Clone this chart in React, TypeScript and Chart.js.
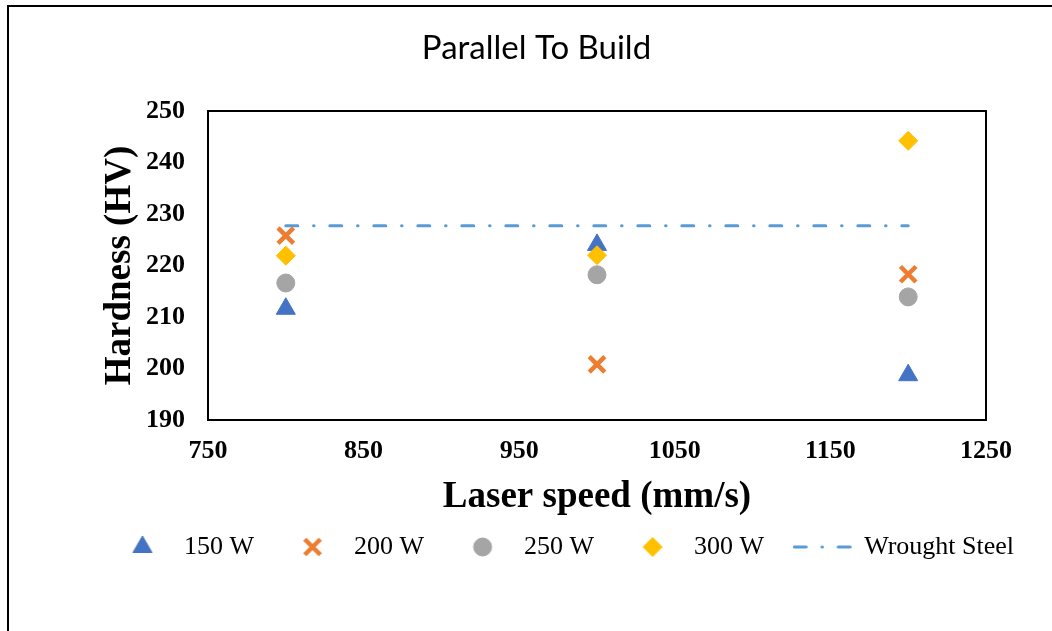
import React, { useEffect, useRef } from 'react';
import { Chart, registerables } from 'chart.js';
import { drawPoint } from 'chart.js/helpers';

Chart.register(...registerables);

// ---- data ----
const speeds = [800, 1000, 1200];
const hv150 = [211.6, 224.0, 198.7];
const hv200 = [225.8, 200.8, 218.3];
const hv250 = [216.6, 218.2, 213.9];
const hv300 = [221.9, 222.0, 244.2];
const wroughtX = [800, 1200];
const wroughtY = [227.7, 227.7];
const seriesLabels = ['150 W', '200 W', '250 W', '300 W', 'Wrought Steel'];
const xRange = [750, 1250];
const xStep = 100;
const yRange = [190, 250];
const yStep = 10;

const BLUE = '#4472C4';
const ORANGE = '#ED7D31';
const GREY = '#A5A5A5';
const GOLD = '#FFC000';
const LINEBLUE = '#5B9BD5';
const DASH = [12, 15.75, 0.5, 15.75];

const toPts = (xs: number[], ys: number[]) => xs.map((x, i) => ({ x, y: ys[i] }));

function markerImage(style: string, radius: number, fill: string, stroke: string, bw: number) {
  const c = document.createElement('canvas');
  c.width = 30;
  c.height = 30;
  const ctx = c.getContext('2d')!;
  ctx.fillStyle = fill;
  ctx.strokeStyle = stroke;
  ctx.lineWidth = bw;
  drawPoint(ctx, { pointStyle: style as any, radius, rotation: 0, borderWidth: bw } as any, 15, 15);
  return c;
}

function lineImage() {
  const c = document.createElement('canvas');
  c.width = 60;
  c.height = 6;
  const ctx = c.getContext('2d')!;
  ctx.strokeStyle = LINEBLUE;
  ctx.lineWidth = 3;
  ctx.lineCap = 'round';
  ctx.setLineDash(DASH);
  ctx.beginPath();
  ctx.moveTo(1.5, 3);
  ctx.lineTo(58.5, 3);
  ctx.stroke();
  return c;
}

export default function App() {
  const ref = useRef<HTMLCanvasElement>(null);

  useEffect(() => {
    const canvas = ref.current!;
    const legendImgs = [
      markerImage('triangle', 11, BLUE, BLUE, 1),
      markerImage('crossRot', 11, ORANGE, ORANGE, 4.5),
      markerImage('circle', 9, GREY, GREY, 1),
      markerImage('rectRot', 9.5, GOLD, GOLD, 1),
      lineImage(),
    ];

    const framePlugin = {
      id: 'frame',
      afterLayout(chart: any) {
        const t = chart.titleBlock;
        if (t) {
          t.left -= 27.5;
          t.right -= 27.5;
        }
      },
      beforeDatasetsDraw(chart: any) {
        const { ctx, chartArea: a } = chart;
        ctx.save();
        ctx.strokeStyle = '#000';
        ctx.lineWidth = 2;
        ctx.strokeRect(a.left, a.top, a.right - a.left, a.bottom - a.top);
        ctx.restore();
      },
    };

    const tickFont = { family: "'Liberation Serif', serif", size: 26, weight: 'bold' as const };
    const axisTitleFont = { family: "'Liberation Serif', serif", size: 37, weight: 'bold' as const };

    const chart = new Chart(canvas, {
      type: 'scatter',
      data: {
        datasets: [
          {
            label: seriesLabels[0],
            data: toPts(speeds, hv150),
            order: 5,
            pointStyle: 'triangle',
            pointRadius: 11,
            backgroundColor: BLUE,
            borderColor: BLUE,
            pointBorderWidth: 1,
          },
          {
            label: seriesLabels[1],
            data: toPts(speeds, hv200),
            order: 4,
            pointStyle: 'crossRot',
            pointRadius: 11,
            backgroundColor: ORANGE,
            borderColor: ORANGE,
            pointBorderWidth: 4.5,
          },
          {
            label: seriesLabels[2],
            data: toPts(speeds, hv250),
            order: 3,
            pointStyle: 'circle',
            pointRadius: 9,
            backgroundColor: GREY,
            borderColor: GREY,
            pointBorderWidth: 1,
          },
          {
            label: seriesLabels[3],
            data: toPts(speeds, hv300),
            order: 2,
            pointStyle: 'rectRot',
            pointRadius: 9.5,
            backgroundColor: GOLD,
            borderColor: GOLD,
            pointBorderWidth: 1,
          },
          {
            type: 'line',
            label: seriesLabels[4],
            data: toPts(wroughtX, wroughtY),
            order: 1,
            borderColor: LINEBLUE,
            backgroundColor: LINEBLUE,
            borderWidth: 3,
            borderDash: DASH,
            borderCapStyle: 'round',
            pointRadius: 0,
            showLine: true,
            fill: false,
          } as any,
        ],
      },
      options: {
        responsive: false,
        animation: false,
        events: [],
        layout: { padding: { left: 76, right: 0, top: 0, bottom: 61 } },
        scales: {
          x: {
            type: 'linear',
            min: xRange[0],
            max: xRange[1],
            grid: { display: false, drawTicks: false },
            border: { display: false },
            ticks: {
              stepSize: xStep,
              font: tickFont,
              color: '#000',
              padding: 15.4,
              maxRotation: 0,
              callback: (v: any) => String(v),
            },
            title: {
              display: true,
              text: 'Laser speed (mm/s)',
              font: axisTitleFont,
              color: '#000',
              padding: { top: 0, bottom: -15.2 },
            },
            afterFit: (s: any) => {
              s.height = 84;
            },
          },
          y: {
            type: 'linear',
            min: yRange[0],
            max: yRange[1],
            grid: { display: false, drawTicks: false },
            border: { display: false },
            ticks: { stepSize: yStep, font: tickFont, color: '#000', padding: 23, callback: (v: any) => String(v) },
            title: {
              display: true,
              text: 'Hardness (HV)',
              font: axisTitleFont,
              color: '#000',
              padding: { top: 22.5, bottom: 0 },
            },
            afterFit: (s: any) => {
              s.width = 132;
            },
          },
          yR: {
            type: 'linear',
            position: 'right',
            display: true,
            grid: { display: false, drawTicks: false },
            border: { display: false },
            ticks: { display: false },
            afterFit: (s: any) => {
              s.width = 66;
            },
          },
        },
        plugins: {
          tooltip: { enabled: false },
          title: {
            display: true,
            text: 'Parallel To Build',
            color: '#000',
            font: { family: "Lato, 'Liberation Sans', sans-serif", size: 33, weight: 'normal' },
            padding: { top: 28.2, bottom: 43.2 },
          },
          legend: {
            display: true,
            position: 'bottom',
            labels: {
              usePointStyle: true,
              pointStyleWidth: 57,
              boxHeight: 14,
              padding: 30,
              color: '#000',
              font: { family: "'Liberation Serif', serif", size: 26, weight: 'normal' },
              sort: (a: any, b: any) => a.datasetIndex - b.datasetIndex,
              generateLabels: (ch: any) => {
                const items = (Chart.defaults.plugins.legend.labels as any).generateLabels(ch);
                items.forEach((it: any) => {
                  it.pointStyle = legendImgs[it.datasetIndex];
                });
                return items;
              },
            },
          },
        },
      },
      plugins: [framePlugin],
    } as any);

    return () => chart.destroy();
  }, []);

  return (
    <div
      style={{
        position: 'fixed',
        left: 0,
        top: 0,
        width: 1052,
        height: 631,
        overflow: 'hidden',
        background: '#fff',
      }}
    >
      <div
        style={{
          position: 'absolute',
          left: 7,
          top: 5,
          width: 1200,
          height: 800,
          border: '2px solid #000',
        }}
      />
      <canvas
        ref={ref}
        width={1052}
        height={631}
        style={{ position: 'absolute', left: 0, top: 0, width: 1052, height: 631 }}
      />
    </div>
  );
}
